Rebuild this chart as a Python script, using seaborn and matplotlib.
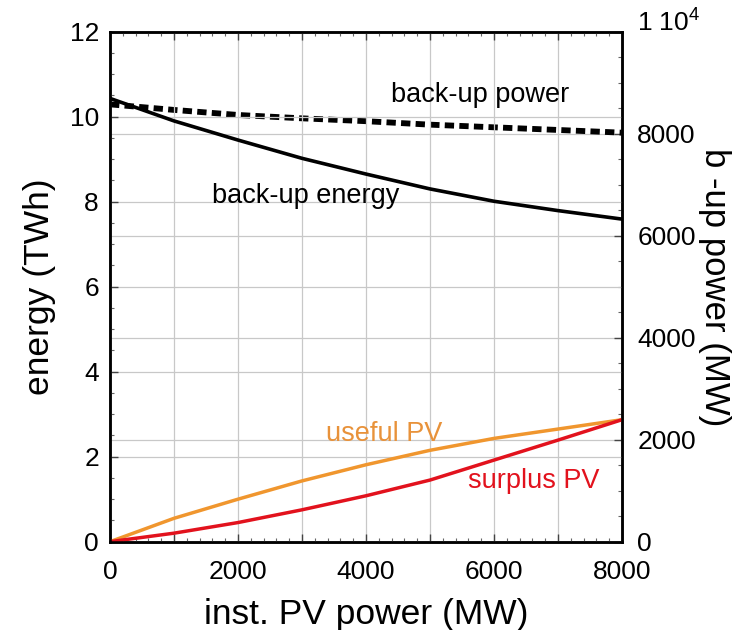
import matplotlib
matplotlib.use("Agg")
import matplotlib.pyplot as plt
import matplotlib.ticker as mticker
import matplotlib.transforms as mtransforms
import seaborn as sns
import pandas as pd

pv_power = [0, 1000, 2000, 3000, 4000, 5000, 6000, 7000, 8000]
backup_energy = [10.43, 9.90, 9.45, 9.02, 8.65, 8.30, 8.01, 7.79, 7.59]
useful_pv = [0.0, 0.55, 1.00, 1.43, 1.81, 2.15, 2.43, 2.65, 2.87]
surplus_pv = [0.0, 0.20, 0.45, 0.75, 1.08, 1.45, 1.92, 2.39, 2.87]
backup_power = [8575, 8466, 8367, 8301, 8245, 8177, 8125, 8073, 8020]

x_ticks = [0, 2000, 4000, 6000, 8000]
left_ticks = [0, 2, 4, 6, 8, 10, 12]
right_ticks = [0, 2000, 4000, 6000, 8000, 10000]
right_labels = ["0", "2000", "4000", "6000", "8000", "1 10$^4$"]

sns.set_theme(style="ticks")
plt.rcParams["font.family"] = ["Liberation Sans", "DejaVu Sans"]
plt.rcParams["mathtext.fontset"] = "custom"
plt.rcParams["mathtext.rm"] = "Liberation Sans"
plt.rcParams["text.color"] = "black"
plt.rcParams["axes.labelcolor"] = "black"
plt.rcParams["xtick.color"] = "black"
plt.rcParams["ytick.color"] = "black"

df = pd.DataFrame({"pv": pv_power, "energy": backup_energy, "useful": useful_pv,
                   "surplus": surplus_pv, "power": backup_power})

fig = plt.figure(figsize=(7.37, 6.3), dpi=100)
ax = fig.add_axes([0.1493, 0.1402, 0.6947, 0.8095])
ax2 = ax.twinx()
ax.set_zorder(ax2.get_zorder() + 1)
ax.patch.set_visible(False)

grid_kw = dict(color="#c8c8c8", linewidth=0.9)

sns.lineplot(data=df, x="pv", y="power", ax=ax2, color="black", linewidth=4.2,
             linestyle=(0, (1.6, 0.9)))
sns.lineplot(data=df, x="pv", y="energy", ax=ax, color="black", linewidth=2.6)
sns.lineplot(data=df, x="pv", y="useful", ax=ax, color="#F0962E", linewidth=2.5)
sns.lineplot(data=df, x="pv", y="surplus", ax=ax, color="#E2121D", linewidth=2.5)

ax.set_xlim(0, 8000)
ax.set_ylim(0, 12)
ax2.set_ylim(0, 10000)

ax.xaxis.set_major_locator(mticker.MultipleLocator(1000))
ax.xaxis.set_major_formatter(mticker.FuncFormatter(
    lambda v, p: f"{int(round(v))}" if int(round(v)) in x_ticks else ""))
ax.xaxis.set_minor_locator(mticker.MultipleLocator(200))
ax.set_yticks(left_ticks)
ax.yaxis.set_minor_locator(mticker.MultipleLocator(0.5))
ax2.set_yticks(right_ticks)
ax2.set_yticklabels(right_labels)
ax2.yaxis.set_minor_locator(mticker.MultipleLocator(500))

ax.grid(True, which="major", **grid_kw)
ax2.grid(True, which="major", axis="y", **grid_kw)
ax2.grid(False, axis="x")

fs_tick = 19
ax.tick_params(axis="both", which="major", direction="in", length=6, width=1,
               labelsize=fs_tick, pad=8, top=True, right=False, color="#444444")
ax.tick_params(axis="both", which="minor", direction="in", length=3, width=0.8,
               top=True, right=False, color="#666666")
ax.tick_params(axis="x", pad=13)
ax2.tick_params(axis="y", which="major", direction="in", length=6, width=1,
                labelsize=fs_tick, pad=11, color="#444444")
ax2.tick_params(axis="y", which="minor", direction="in", length=3, width=0.8,
                color="#666666")

for a in (ax, ax2):
    for s in a.spines.values():
        s.set_visible(True)
        s.set_linewidth(1.8)
        s.set_color("black")

ax.set_xlabel("inst. PV power (MW)", fontsize=25.5, labelpad=10)
ax.set_ylabel("energy (TWh)", fontsize=25.5, labelpad=10)
ax2.set_ylabel("b -up power (MW)", fontsize=25, rotation=270, labelpad=22)

fs_ann = 19.5
ax.text(5780, 10.51, "back-up power", fontsize=fs_ann, ha="center", va="center", color="black")
ax.text(3050, 8.13, "back-up energy", fontsize=fs_ann, ha="center", va="center", color="black")
ax.text(4280, 2.53, "useful PV", fontsize=fs_ann, ha="center", va="center", color="#E8923A")
ax.text(6625, 1.43, "surplus PV", fontsize=fs_ann, ha="center", va="center", color="#E2121D")

fig.canvas.draw()
top_lbl = ax2.get_yticklabels()[-1]
top_lbl.set_transform(top_lbl.get_transform() +
                      mtransforms.ScaledTranslation(0, 9 / 72, fig.dpi_scale_trans))

fig.savefig("out.png", dpi=100)
